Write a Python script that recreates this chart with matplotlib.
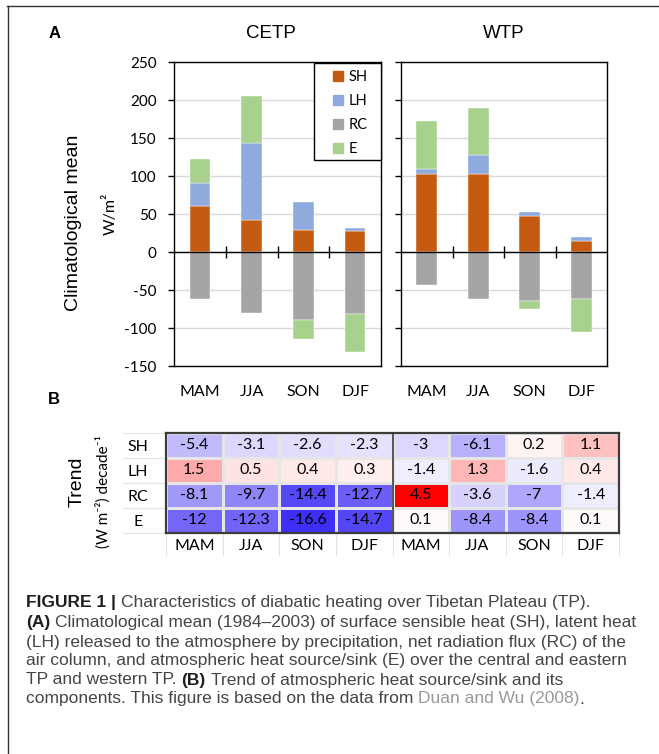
import matplotlib.pyplot as plt
import numpy as np
from matplotlib.colors import LinearSegmentedColormap, TwoSlopeNorm
from matplotlib.legend_handler import HandlerPatch
from matplotlib.lines import Line2D
from matplotlib.patches import Patch, Rectangle

plt.rcParams["axes.unicode_minus"] = False

W, H = 659, 754

seasons = ["MAM", "JJA", "SON", "DJF"]
components = ["SH", "LH", "RC", "E"]
bar_colors = ["#C55A11", "#8FAADC", "#A5A5A5", "#A9D18E"]

# climatological mean (W/m2)
cetp_sh = [61, 42, 29, 27]
cetp_lh = [30, 101, 37, 4]
cetp_rc = [-62, -80, -90, -81]
cetp_e = [32, 62, -24, -50]

wtp_sh = [103, 102, 47, 15]
wtp_lh = [6, 25, 6, 4.5]
wtp_rc = [-44, -62, -64, -62]
wtp_e = [63, 63, -11, -43]

# trend (W m-2 per decade), rows SH, LH, RC, E
trend_cetp = [
    [-5.4, -3.1, -2.6, -2.3],
    [1.5, 0.5, 0.4, 0.3],
    [-8.1, -9.7, -14.4, -12.7],
    [-12, -12.3, -16.6, -14.7],
]
trend_wtp = [
    [-3, -6.1, 0.2, 1.1],
    [-1.4, 1.3, -1.6, 0.4],
    [4.5, -3.6, -7, -1.4],
    [0.1, -8.4, -8.4, 0.1],
]

xl_font = ["Lato", "DejaVu Sans"]
ar_font = "Liberation Sans"

fig = plt.figure(figsize=(W / 100, H / 100), dpi=100)


def box(l, t, r, b):
    return [l / W, 1 - b / H, (r - l) / W, (b - t) / H]


def stacked(ax, series):
    x = np.arange(len(seasons))
    pos = np.zeros(len(seasons))
    neg = np.zeros(len(seasons))
    for vals, c, name in zip(series, bar_colors, components):
        v = np.array(vals, dtype=float)
        base = np.where(v >= 0, pos, neg)
        ax.bar(x, v, 0.4, bottom=base, color=c, label=name, zorder=3,
               edgecolor="white", linewidth=0.3)
        pos = pos + np.clip(v, 0, None)
        neg = neg + np.clip(v, None, 0)
    ax.set_xlim(-0.5, 3.5)
    ax.set_ylim(-150, 250)
    ax.set_yticks(range(-150, 251, 50))
    ax.grid(axis="y", color="#D9D9D9", lw=1, zorder=0)
    ax.axhline(0, color="black", lw=1, zorder=4)
    ax.vlines([0.5, 1.5, 2.5], -8, 8, color="black", lw=1, zorder=4)
    for s in ax.spines.values():
        s.set_color("black")
        s.set_linewidth(1)
    ax.set_xticks(x, seasons)
    ax.tick_params(axis="x", length=0, pad=14, labelsize=11.5)
    ax.tick_params(axis="y", direction="out", length=4.5, width=1,
                   labelsize=11, pad=8)
    for lab in ax.get_xticklabels() + ax.get_yticklabels():
        lab.set_family(xl_font)


def square_right(legend, orig_handle, xdescent, ydescent, width, height, fontsize):
    side = 0.7 * fontsize
    return Rectangle((width - side - xdescent, (height - side) / 2 - ydescent),
                     side, side)


ax1 = fig.add_axes(box(174, 62, 381, 366))
stacked(ax1, [cetp_sh, cetp_lh, cetp_rc, cetp_e])
handles = [Patch(color=c) for c in bar_colors]
leg = ax1.legend(handles, components, loc="upper left",
                 bbox_to_anchor=(314 / W, 1 - 63 / H),
                 bbox_transform=fig.transFigure, borderaxespad=0,
                 frameon=False, prop={"family": xl_font, "size": 10.5},
                 handlelength=1.5, handleheight=0.7, handletextpad=0.35,
                 labelspacing=0.68, borderpad=0.5,
                 handler_map={Patch: HandlerPatch(patch_func=square_right)})
leg.set_zorder(6)
ax1.add_patch(Rectangle((314 / W, 1 - 160 / H), 67 / W, 97 / H,
                        transform=fig.transFigure, facecolor="white",
                        edgecolor="black", lw=1, zorder=5, clip_on=False))

ax2 = fig.add_axes(box(401, 62, 607, 366))
stacked(ax2, [wtp_sh, wtp_lh, wtp_rc, wtp_e])
ax2.set_yticklabels([])

fig.text(271 / W, 1 - 34 / H, "CETP", ha="center", va="center",
         family=ar_font, fontsize=13.5)
fig.text(504 / W, 1 - 34 / H, "WTP", ha="center", va="center",
         family=ar_font, fontsize=13.5)
fig.text(55 / W, 1 - 34 / H, "A", ha="center", va="center",
         family=ar_font, fontsize=12, fontweight="bold")
fig.text(54 / W, 1 - 399 / H, "B", ha="center", va="center",
         family=ar_font, fontsize=12, fontweight="bold")
fig.text(73 / W, 1 - 223 / H, "Climatological mean", rotation=90,
         ha="center", va="center", family=ar_font, fontsize=14)
fig.text(110 / W, 1 - 214 / H, "W/m²", rotation=90, ha="center",
         va="center", family=xl_font, fontsize=11.5)

# heatmap of trends
cmap = LinearSegmentedColormap.from_list("bwr_xl", ["#3f2ef5", "#ffffff", "#ff0000"])
trend = np.hstack([np.array(trend_cetp), np.array(trend_wtp)])
norm = TwoSlopeNorm(vmin=trend.min(), vcenter=0, vmax=trend.max())

ax3 = fig.add_axes(box(166, 433, 619, 533))
ax3.pcolormesh(np.arange(9), np.arange(5), trend, cmap=cmap, norm=norm,
               edgecolors="#E6E6E6", linewidth=0.8)
ax3.set_xlim(0, 8)
ax3.set_ylim(4, 0)
for i in range(trend.shape[0]):
    for j in range(trend.shape[1]):
        ax3.text(j + 0.5, i + 0.5, f"{trend[i, j]:g}", ha="center",
                 va="center", family=xl_font, fontsize=11.5)
ax3.set_xticks(np.arange(8) + 0.5, seasons * 2)
ax3.set_yticks(np.arange(4) + 0.5, components)
ax3.tick_params(axis="x", length=0, pad=4, labelsize=11.5)
ax3.tick_params(axis="y", length=0, pad=20, labelsize=11.5)
for lab in ax3.get_yticklabels():
    lab.set_horizontalalignment("center")
for lab in ax3.get_xticklabels() + ax3.get_yticklabels():
    lab.set_family(xl_font)
for s in ax3.spines.values():
    s.set_color("#3c3c3c")
    s.set_linewidth(1.6)
ax3.axvline(4, color="#3c3c3c", lw=1.2)
for yb in range(5):
    ax3.plot([-0.76, 0], [yb, yb], color="#E3E3E3", lw=0.8, clip_on=False)
for xb in range(9):
    ax3.plot([xb, xb], [4, 4.88], color="#E3E3E3", lw=0.8, clip_on=False)

fig.text(77 / W, 1 - 482 / H, "Trend", rotation=90, ha="center",
         va="center", family=ar_font, fontsize=14)
fig.text(103 / W, 1 - 492 / H, "(W m⁻²) decade⁻¹", rotation=90,
         ha="center", va="center", family=xl_font, fontsize=11)

# frame lines of the figure
fig.add_artist(Line2D([7 / W, 1], [1 - 6 / H, 1 - 6 / H], color="#333333", lw=1))
fig.add_artist(Line2D([8 / W, 8 / W], [0, 1 - 6 / H], color="#333333", lw=1))

# caption
cap_font = "Liberation Sans"
renderer = fig.canvas.get_renderer()
ink = "#454545"
dark = "#1e1e1e"

caption = [
    (603, [("FIGURE 1 |", "bold", dark),
           ("Characteristics of diabatic heating over Tibetan Plateau (TP).", "normal", ink)]),
    (622, [("(A)", "bold", dark),
           ("Climatological mean (1984–2003) of surface sensible heat (SH), latent heat", "normal", ink)]),
    (642, [("(LH) released to the atmosphere by precipitation, net radiation flux (RC) of the", "normal", ink)]),
    (661, [("air column, and atmospheric heat source/sink (E) over the central and eastern", "normal", ink)]),
    (680, [("TP and western TP.", "normal", ink), ("(B)", "bold", dark),
           ("Trend of atmospheric heat source/sink and its", "normal", ink)]),
    (699, [("components. This figure is based on the data from", "normal", ink),
           ("Duan and Wu (2008)", "normal", "#999999")]),
]


def text_width(s, weight, size):
    t = fig.text(0, 0, s, fontsize=size, family=cap_font, fontweight=weight)
    w = t.get_window_extent(renderer=renderer).width
    t.remove()
    return w


# fit caption size so the second line spans the same width as the original
probe = text_width("(A) " + caption[1][1][1][0], "normal", 10)
cap_size = 10 * 611 / probe
space_w = text_width("x x", "normal", cap_size) - text_width("xx", "normal", cap_size)

for y, parts in caption:
    x = 26.0
    for k, (txt, weight, color) in enumerate(parts):
        t = fig.text(x / W, 1 - y / H, txt, fontsize=cap_size, family=cap_font,
                     fontweight=weight, color=color, va="center")
        x = t.get_window_extent(renderer=renderer).x1
        if k < len(parts) - 1:
            x += space_w
    if y == 699:
        fig.text(x / W, 1 - y / H, ".", fontsize=cap_size, family=cap_font,
                 color=ink, va="center")

fig.savefig("out.png", dpi=100)
